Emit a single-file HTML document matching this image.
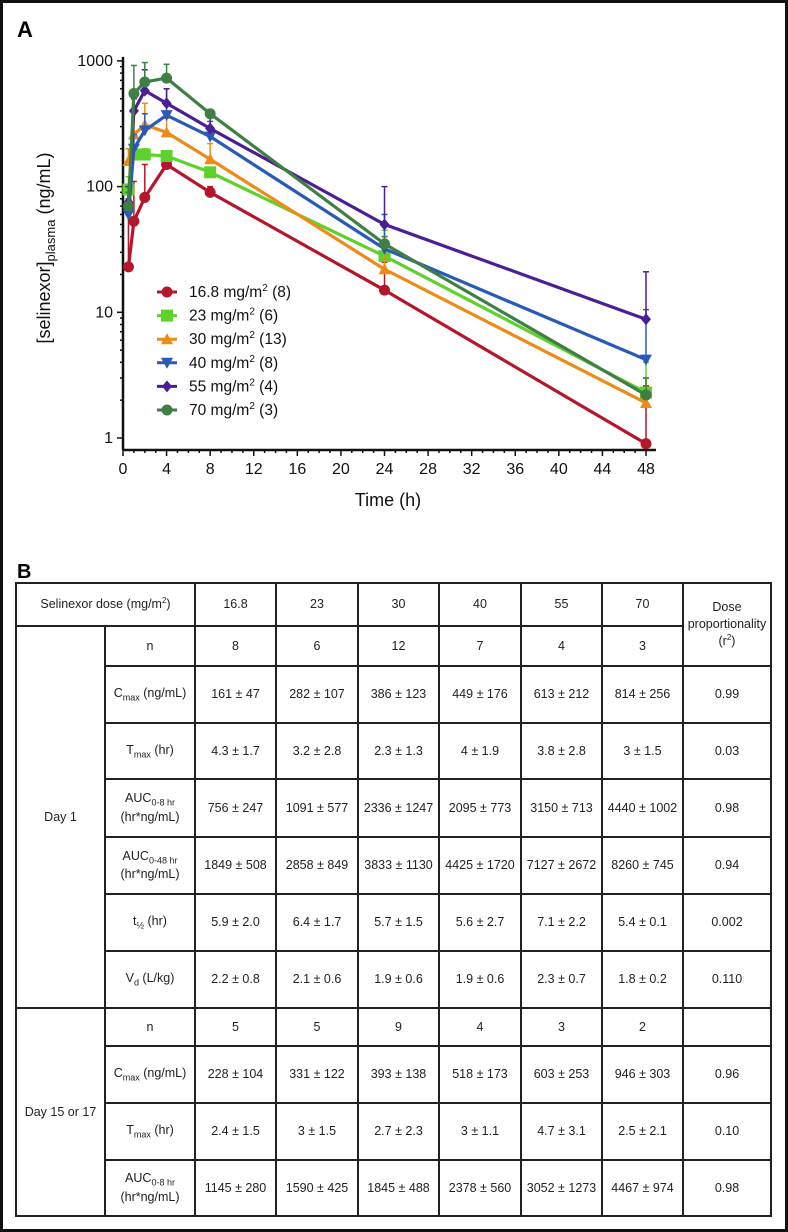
<!DOCTYPE html>
<html><head><meta charset="utf-8">
<style>
body{margin:0;background:#fff;}
#wrap{position:relative;width:788px;height:1232px;box-sizing:border-box;border:3px solid #111;overflow:hidden;font-family:"Liberation Sans",sans-serif;}
.lbl{position:absolute;font-weight:bold;font-size:22px;}
table{position:absolute;left:12px;top:579px;border-collapse:collapse;font-family:"Liberation Sans",sans-serif;font-size:12.5px;color:#222;table-layout:fixed;}
td{border:2px solid #222;text-align:center;padding:0;line-height:1.35;}
sub{font-size:9px;}
sup{font-size:8px;}
</style></head>
<body>
<div id="wrap">
<div class="lbl" style="left:14px;top:14px">A</div>
<svg id="chart" width="788" height="540" style="position:absolute;left:-3px;top:-3px"></svg>
<div class="lbl" style="left:14px;top:558px;font-size:20px">B</div>
<table>
<colgroup><col style="width:89px"><col style="width:90px"><col style="width:81px"><col style="width:82px"><col style="width:81px"><col style="width:82px"><col style="width:81px"><col style="width:81px"><col style="width:88px"></colgroup>
<tr style="height:43px"><td colspan="2">Selinexor dose (mg/m<sup>2</sup>)</td><td>16.8</td><td>23</td><td>30</td><td>40</td><td>55</td><td>70</td><td rowspan="2">Dose proportionality (r<sup>2</sup>)</td></tr>
<tr style="height:40px"><td rowspan="7">Day 1</td><td>n</td><td>8</td><td>6</td><td>12</td><td>7</td><td>4</td><td>3</td></tr>
<tr style="height:57px"><td>C<sub>max</sub> (ng/mL)</td><td>161 ± 47</td><td>282 ± 107</td><td>386 ± 123</td><td>449 ± 176</td><td>613 ± 212</td><td>814 ± 256</td><td>0.99</td></tr>
<tr style="height:56px"><td>T<sub>max</sub> (hr)</td><td>4.3 ± 1.7</td><td>3.2 ± 2.8</td><td>2.3 ± 1.3</td><td>4 ± 1.9</td><td>3.8 ± 2.8</td><td>3 ± 1.5</td><td>0.03</td></tr>
<tr style="height:58px"><td>AUC<sub>0-8 hr</sub><br>(hr*ng/mL)</td><td>756 ± 247</td><td>1091 ± 577</td><td>2336 ± 1247</td><td>2095 ± 773</td><td>3150 ± 713</td><td>4440 ± 1002</td><td>0.98</td></tr>
<tr style="height:57px"><td>AUC<sub>0-48 hr</sub><br>(hr*ng/mL)</td><td>1849 ± 508</td><td>2858 ± 849</td><td>3833 ± 1130</td><td>4425 ± 1720</td><td>7127 ± 2672</td><td>8260 ± 745</td><td>0.94</td></tr>
<tr style="height:57px"><td>t<sub>½</sub> (hr)</td><td>5.9 ± 2.0</td><td>6.4 ± 1.7</td><td>5.7 ± 1.5</td><td>5.6 ± 2.7</td><td>7.1 ± 2.2</td><td>5.4 ± 0.1</td><td>0.002</td></tr>
<tr style="height:57px"><td>V<sub>d</sub> (L/kg)</td><td>2.2 ± 0.8</td><td>2.1 ± 0.6</td><td>1.9 ± 0.6</td><td>1.9 ± 0.6</td><td>2.3 ± 0.7</td><td>1.8 ± 0.2</td><td>0.110</td></tr>
<tr style="height:38px"><td rowspan="4">Day 15 or 17</td><td>n</td><td>5</td><td>5</td><td>9</td><td>4</td><td>3</td><td>2</td><td></td></tr>
<tr style="height:57px"><td>C<sub>max</sub> (ng/mL)</td><td>228 ± 104</td><td>331 ± 122</td><td>393 ± 138</td><td>518 ± 173</td><td>603 ± 253</td><td>946 ± 303</td><td>0.96</td></tr>
<tr style="height:57px"><td>T<sub>max</sub> (hr)</td><td>2.4 ± 1.5</td><td>3 ± 1.5</td><td>2.7 ± 2.3</td><td>3 ± 1.1</td><td>4.7 ± 3.1</td><td>2.5 ± 2.1</td><td>0.10</td></tr>
<tr style="height:56px"><td>AUC<sub>0-8 hr</sub><br>(hr*ng/mL)</td><td>1145 ± 280</td><td>1590 ± 425</td><td>1845 ± 488</td><td>2378 ± 560</td><td>3052 ± 1273</td><td>4467 ± 974</td><td>0.98</td></tr>
</table>
</div>
<script>
const times=[0.5,1,2,4,8,24,48];
const seriesNames=["16.8 mg/m2 (8)","23 mg/m2 (6)","30 mg/m2 (13)","40 mg/m2 (8)","55 mg/m2 (4)","70 mg/m2 (3)"];
const s168=[23,53,82,150,90,15,0.9];
const s23=[95,180,180,175,130,28,2.3];
const s30=[160,260,310,270,165,22,1.9];
const s40=[60,200,280,370,250,32,4.2];
const s55=[75,400,580,460,290,50,8.8];
const s70=[70,550,680,730,380,35,2.2];
const err168=[60,110,150,190,100,25,2.6];
const err23=[120,200,200,190,140,45,4];
const err30=[200,420,460,350,220,40,3];
const err40=[80,260,380,600,330,60,10.5];
const err55=[100,500,850,600,380,100,21];
const err70=[90,920,970,940,400,40,3];
const xTicks=[0,4,8,12,16,20,24,28,32,36,40,44,48];
const yTicks=[1,10,100,1000];
const colors=["#b5162b","#5fd12c","#ee8a18","#2a5ab8","#4a1f96","#3f7f45"];
const markers=["circle","square","tri","tridown","diamond","circle"];
const vals=[s168,s23,s30,s40,s55,s70], errs=[err168,err23,err30,err40,err55,err70];
const svg=document.getElementById('chart'),NS="http://www.w3.org/2000/svg";
const OX=3,OY=3;
const X=t=>OX+120+t*(523/48);
const Y=v=>OY+435-Math.log10(v)*125.7;
function el(tag,a,parent){const e=document.createElementNS(NS,tag);for(const k in a)e.setAttribute(k,a[k]);(parent||svg).appendChild(e);return e;}
const axY=OY+447;
let ax=el('line',{x1:X(0),y1:Y(1000)-4,x2:X(0),y2:axY,stroke:'#111','stroke-width':2.5});


let bx=el('line',{x1:X(0),y1:axY,x2:X(48)+10,y2:axY,stroke:'#111','stroke-width':2.5});


for(let h=0;h<=48;h++){el('line',{x1:X(h),y1:axY,x2:X(h),y2:axY+(h%4==0?6:3),stroke:'#111','stroke-width':1.5});}
xTicks.forEach(t=>{const tx=el('text',{x:X(t),y:axY+24,'text-anchor':'middle','font-size':16,'font-family':'Liberation Sans',fill:'#111'});tx.textContent=t;

});
for(let d=0;d<3;d++)for(let m=1;m<=9;m++){const v=m*Math.pow(10,d);el('line',{x1:X(0),y1:Y(v),x2:X(0)-(m==1?6:3),y2:Y(v),stroke:'#111','stroke-width':1.5});}
el('line',{x1:X(0),y1:Y(1000),x2:X(0)-6,y2:Y(1000),stroke:'#111','stroke-width':1.5});
yTicks.forEach(t=>{const tx=el('text',{x:X(0)-10,y:Y(t)+5,'text-anchor':'end','font-size':16,'font-family':'Liberation Sans',fill:'#111'});tx.textContent=t;

});
const yt=el('text',{transform:`translate(${OX+47},${OY+245}) rotate(-90)`,'text-anchor':'middle','font-size':18,'font-family':'Liberation Sans',fill:'#111'});
yt.innerHTML='[selinexor]<tspan font-size="13" dy="5">plasma</tspan><tspan dy="-5"> (ng/mL)</tspan>';


const xt=el('text',{x:OX+385,y:OY+503,'text-anchor':'middle','font-size':18,'font-family':'Liberation Sans',fill:'#111'});xt.textContent='Time (h)';


function marker(type,x,y,c,g){
 if(type=='circle')return el('circle',{cx:x,cy:y,r:5.5,fill:c},g);
 if(type=='square')return el('rect',{x:x-6,y:y-6,width:12,height:12,fill:c},g);
 if(type=='tri')return el('polygon',{points:`${x},${y-6} ${x+6},${y+5} ${x-6},${y+5}`,fill:c},g);
 if(type=='tridown')return el('polygon',{points:`${x},${y+6} ${x+6},${y-5} ${x-6},${y-5}`,fill:c},g);
 return el('polygon',{points:`${x},${y-6} ${x+5},${y} ${x},${y+6} ${x-5},${y}`,fill:c},g);
}
vals.forEach((arr,i)=>{
 const g=el('g',{});
 
 
 arr.forEach((v,j)=>{const x=X(times[j]);el('line',{x1:x,y1:Y(v),x2:x,y2:Y(errs[i][j]),stroke:colors[i],'stroke-width':1.5},g);el('line',{x1:x-3,y1:Y(errs[i][j]),x2:x+3,y2:Y(errs[i][j]),stroke:colors[i],'stroke-width':1.5},g);});
 el('polyline',{points:arr.map((v,j)=>X(times[j])+','+Y(v)).join(' '),fill:'none',stroke:colors[i],'stroke-width':3.2},g);
 arr.forEach((v,j)=>{const m=marker(markers[i],X(times[j]),Y(v),colors[i],g);
 
 });
});
seriesNames.forEach((n,i)=>{
 const y=OY+289+i*23.6;
 const g=el('g',{});
 
 
 el('line',{x1:OX+154,y1:y,x2:OX+174,y2:y,stroke:colors[i],'stroke-width':3},g);
 marker(markers[i],OX+164,y,colors[i],g);
 const p=n.split('m2');
 const t=el('text',{x:OX+186,y:y+5,'font-size':15.5,'font-family':'Liberation Sans',fill:'#111'},g);
 t.innerHTML=p[0]+'m<tspan font-size="10" dy="-6">2</tspan><tspan dy="6">'+p[1]+'</tspan>';
});
</script>
</body></html>
